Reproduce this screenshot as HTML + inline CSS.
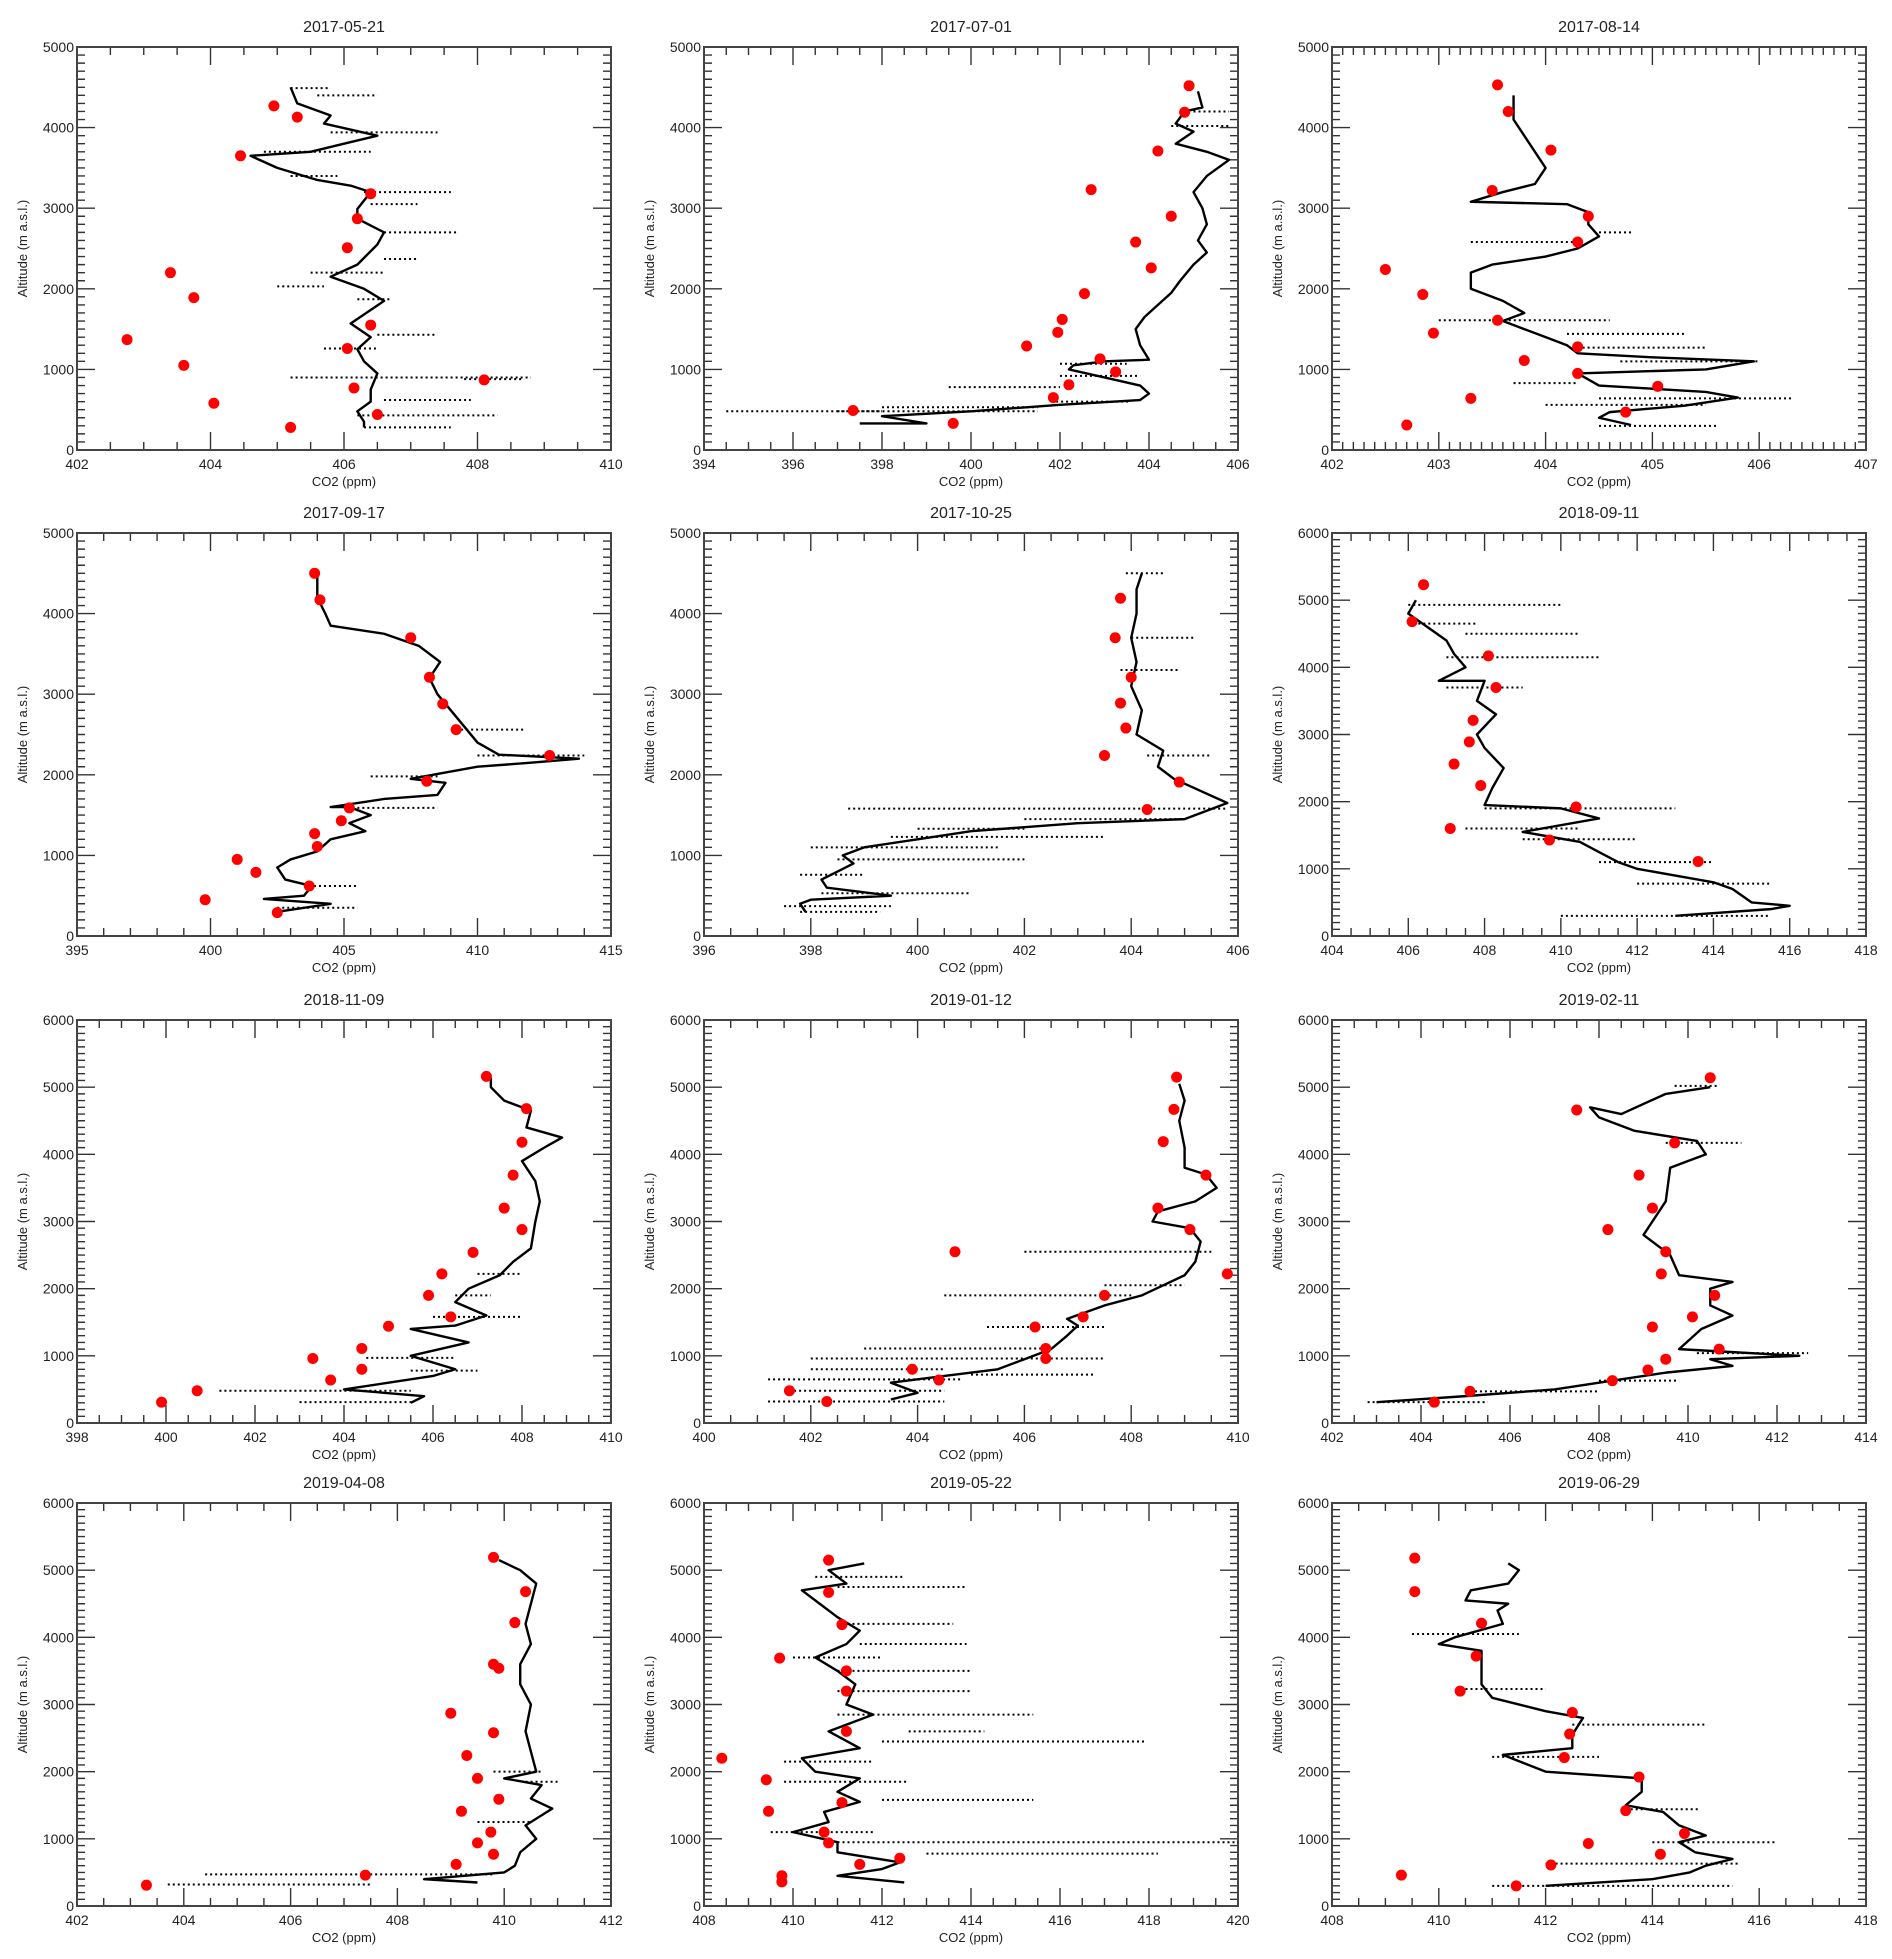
<!DOCTYPE html>
<html><head><meta charset="utf-8"><style>
body{margin:0;background:#fff;}
svg text{font-family:"Liberation Sans",sans-serif;fill:#222;}
</style></head><body>
<svg id="fig" xmlns="http://www.w3.org/2000/svg" width="1892" height="1954" viewBox="0 0 1892 1954"></svg>
<script>
// ---- data ----
const titles=["2017-05-21","2017-07-01","2017-08-14","2017-09-17","2017-10-25","2018-09-11","2018-11-09","2019-01-12","2019-02-11","2019-04-08","2019-05-22","2019-06-29"];
const xRanges=[[402,410,2,0.5],[394,406,2,0.5],[402,407,1,0.1],[395,415,5,1],[396,406,2,0.5],[404,418,2,0.5],[398,410,2,0.5],[400,410,2,0.5],[402,414,2,0.5],[402,412,2,0.5],[408,420,2,0.5],[408,418,2,0.5]];
const yMaxes=[5000,5000,5000,5000,5000,6000,6000,6000,6000,6000,6000,6000];
const redDots=[
[[404.95,4270],[405.3,4130],[404.45,3650],[406.4,3180],[406.2,2870],[406.05,2510],[403.4,2200],[403.75,1890],[406.4,1550],[402.75,1370],[406.05,1260],[403.6,1050],[408.1,870],[406.15,770],[404.05,580],[406.5,440],[405.2,280]],
[[404.9,4520],[404.8,4190],[404.2,3710],[402.7,3230],[404.5,2900],[403.7,2580],[404.05,2260],[402.55,1940],[402.05,1620],[401.95,1460],[401.25,1290],[402.9,1130],[403.25,970],[402.2,810],[401.85,650],[397.35,490],[399.6,330]],
[[403.55,4530],[403.65,4200],[404.05,3720],[403.5,3220],[404.4,2900],[404.3,2580],[402.5,2240],[402.85,1930],[403.55,1610],[402.95,1450],[404.3,1280],[403.8,1110],[404.3,950],[405.05,790],[403.3,640],[404.75,470],[402.7,310]],
[[403.9,4500],[404.1,4170],[407.5,3700],[408.2,3210],[408.7,2880],[409.2,2560],[412.7,2240],[408.1,1920],[405.2,1590],[404.9,1430],[403.9,1270],[404,1110],[401,950],[401.7,790],[403.7,620],[399.8,450],[402.5,290]],
[[403.8,4190],[403.7,3700],[404,3210],[403.8,2890],[403.9,2580],[403.5,2240],[404.9,1910],[404.3,1570]],
[[406.4,5230],[406.1,4680],[408.1,4170],[408.3,3700],[407.7,3210],[407.6,2890],[407.2,2560],[407.9,2240],[410.4,1920],[407.1,1600],[409.7,1430],[413.6,1110]],
[[407.2,5160],[408.1,4680],[408,4180],[407.8,3690],[407.6,3200],[408,2880],[406.9,2540],[406.2,2220],[405.9,1900],[406.4,1580],[405,1440],[404.4,1110],[403.3,960],[404.4,800],[403.7,640],[400.7,480],[399.9,310]],
[[408.85,5150],[408.8,4670],[408.6,4190],[409.4,3690],[408.5,3200],[409.1,2880],[404.7,2550],[409.8,2220],[407.5,1900],[407.1,1580],[406.2,1430],[406.4,1110],[406.4,960],[403.9,800],[404.4,640],[401.6,480],[402.3,320]],
[[410.5,5140],[407.5,4660],[409.7,4170],[408.9,3690],[409.2,3200],[408.2,2880],[409.5,2550],[409.4,2220],[410.6,1900],[410.1,1580],[409.2,1430],[410.7,1100],[409.5,950],[409.1,790],[408.3,630],[405.1,470],[404.3,310]],
[[409.8,5190],[410.4,4680],[410.2,4220],[409.8,3600],[409.9,3540],[409,2870],[409.8,2580],[409.3,2240],[409.5,1900],[409.9,1590],[409.2,1410],[409.75,1100],[409.5,940],[409.8,770],[409.1,620],[407.4,460],[403.3,310]],
[[410.8,5150],[410.8,4670],[411.1,4190],[409.7,3690],[411.2,3500],[411.2,3200],[411.2,2600],[408.4,2200],[409.4,1880],[409.45,1410],[411.1,1540],[410.7,1100],[410.8,940],[411.5,620],[412.4,710],[409.75,450],[409.75,360]],
[[409.55,5180],[409.55,4680],[410.8,4210],[410.7,3720],[410.4,3200],[412.5,2880],[412.45,2560],[412.35,2210],[413.75,1920],[413.5,1420],[414.6,1080],[412.8,930],[414.15,770],[412.1,610],[409.3,460],[411.45,300]]
];
const profiles=[
[[406.3,280],[406.3,350],[406.2,480],[406.4,600],[406.4,750],[406.5,950],[406.3,1100],[406.2,1250],[406.4,1400],[406.1,1570],[406.6,1850],[406.3,2000],[405.8,2150],[406.2,2300],[406.5,2550],[406.6,2700],[406.2,2870],[406.2,2990],[406.4,3200],[406.1,3280],[405.6,3350],[405.0,3500],[404.6,3650],[405.5,3700],[406.0,3800],[406.5,3900],[405.7,4050],[405.8,4150],[405.3,4300],[405.2,4500]],
[[397.5,330],[399,330],[398,420],[400,480],[402,560],[403.8,620],[404,700],[403.8,800],[403,900],[402.2,1000],[402.3,1050],[403,1100],[404,1120],[403.8,1300],[403.7,1500],[403.9,1650],[404.2,1800],[404.5,1950],[404.7,2100],[405,2300],[405.3,2450],[405.1,2600],[405.3,2800],[405.2,3000],[405,3200],[405.3,3400],[405.8,3600],[405.3,3700],[404.6,3800],[405,3950],[404.6,4050],[404.8,4200],[405.2,4250],[405.1,4450]],
[[404.8,310],[404.5,400],[404.6,470],[405.3,550],[405.8,650],[405.5,720],[404.5,800],[404.3,950],[405.5,1000],[405.95,1100],[405,1150],[404.3,1200],[404.2,1300],[404.0,1400],[403.8,1500],[403.6,1600],[403.8,1700],[403.6,1850],[403.3,2000],[403.3,2200],[403.5,2300],[404,2400],[404.3,2500],[404.5,2650],[404.4,2800],[404.4,2950],[404.2,3050],[403.3,3080],[403.6,3200],[403.9,3300],[404.0,3500],[403.9,3700],[403.8,3900],[403.7,4100],[403.7,4300],[403.7,4400]],
[[402.5,300],[404.5,400],[402,460],[403.5,500],[403.8,620],[402.8,700],[402.5,850],[403,950],[404,1050],[404.5,1200],[405.8,1300],[405.2,1400],[406,1500],[405.2,1600],[404.5,1600],[406.5,1700],[408.5,1750],[408.8,1900],[407.5,1950],[410,2100],[412,2150],[413.8,2200],[410.8,2250],[410,2400],[409.5,2600],[409,2800],[408.5,3000],[408.2,3200],[408.6,3400],[407.8,3600],[406.5,3750],[404.5,3850],[404.3,4000],[404.0,4200],[404.0,4450]],
[[397.9,300],[397.8,400],[398,450],[399.5,500],[398.3,600],[398.2,700],[398.5,800],[398.8,900],[398.6,1000],[399,1100],[400,1200],[401,1300],[403,1400],[405.0,1450],[405.8,1650],[405.3,1800],[404.8,1950],[404.5,2100],[404.6,2300],[404.1,2500],[404.2,2800],[404.0,3100],[404.1,3400],[404.0,3700],[404.1,4000],[404.1,4300],[404.2,4500]],
[[413,300],[415.5,400],[416,450],[415,500],[414.5,700],[414,800],[413,900],[412,1000],[411.5,1100],[411,1250],[410.5,1400],[409,1550],[411,1750],[410,1900],[408,1950],[408.2,2200],[408.5,2500],[408,2800],[407.8,3000],[408.3,3300],[407.8,3500],[408,3800],[406.8,3800],[407.5,4000],[407.2,4200],[407,4400],[406.5,4600],[406,4800],[406.2,5000]],
[[405.5,300],[405.8,400],[404,500],[405,600],[406,700],[406.5,800],[405.5,1000],[406.8,1200],[405.5,1400],[406.5,1450],[407.2,1600],[406.5,1800],[406.8,2000],[407.5,2200],[407.8,2400],[408.2,2600],[408.3,3000],[408.4,3300],[408.3,3600],[408.0,3900],[408.5,4100],[408.9,4250],[408.1,4400],[408.2,4650],[407.6,4800],[407.3,5000],[407.3,5150]],
[[403.5,350],[404,450],[403.5,600],[404.5,700],[405.5,800],[406,950],[406.5,1100],[406.8,1300],[407,1450],[406.8,1550],[407.5,1750],[408.2,1900],[408.6,2050],[409,2200],[409.2,2400],[409.3,2700],[409.1,2900],[408.4,3000],[408.5,3150],[409.2,3300],[409.6,3500],[409.4,3700],[409,3800],[409,4100],[408.9,4500],[409,4800],[408.9,5050]],
[[403,310],[405,400],[407,500],[408.5,650],[409.5,750],[411,850],[410.5,950],[412.5,1000],[409.8,1100],[410.3,1400],[411,1600],[410.5,1750],[410.5,2000],[411,2100],[409.8,2200],[409.6,2500],[409,2800],[409.2,3000],[409.5,3300],[409.6,3800],[410,3900],[410.4,4000],[410.2,4200],[408.8,4350],[408,4550],[407.8,4700],[408.5,4600],[409.5,4900],[410.5,5000]],
[[409.5,350],[408.5,400],[410,500],[410.2,600],[410.3,800],[410.6,1000],[410.4,1200],[410.9,1450],[410.5,1600],[410.7,1800],[410,1900],[410.6,2000],[410.5,2300],[410.4,2600],[410.5,3000],[410.3,3300],[410.3,3600],[410.5,3900],[410.4,4200],[410.5,4500],[410.6,4800],[410.3,5000],[409.9,5150]],
[[412.5,350],[411,450],[412,550],[412.4,650],[411,800],[411,950],[410,1100],[410.8,1250],[410.7,1400],[411.5,1550],[411,1700],[411.5,1900],[410.5,2000],[410.2,2200],[411.5,2350],[410.8,2600],[411.8,2850],[411.2,3000],[411.4,3300],[411,3500],[410.5,3700],[411.2,3900],[411.5,4100],[411,4300],[410.6,4500],[410.2,4700],[411.2,4800],[410.8,5000],[411.6,5100]],
[[412,300],[414,400],[414.7,500],[415,600],[415.5,700],[414.8,800],[414.5,950],[415,1050],[414.5,1200],[414.2,1400],[413.5,1500],[413.8,1700],[413.8,1900],[412,2000],[411.2,2250],[412.5,2350],[412.5,2550],[412.7,2800],[412,2900],[411,3100],[410.8,3300],[410.8,3600],[410.8,3800],[410.0,3900],[410.3,4000],[411.2,4200],[411.1,4400],[411.3,4500],[410.5,4550],[410.6,4700],[411.3,4800],[411.5,5000],[411.3,5100]]
];
const streaks=[
[[4490,405.2,405.8],[4400,405.6,406.5],[3940,405.8,407.4],[3700,404.8,406.4],[3400,405.2,405.9],[3200,406.3,407.6],[3050,406.4,407.1],[2700,406.6,407.7],[2370,406.6,407.1],[2030,405,405.7],[1870,406.2,406.7],[1430,406.5,407.4],[1260,405.7,406.5],[900,405.2,408.8],[880,407.8,408.7],[620,406.6,407.9],[430,406.2,408.3],[280,406.3,407.6],[2200,405.5,406.6]],
[[480,394.5,398],[480,397,401.5],[530,398,401.5],[780,399.5,402],[600,401.8,403.6],[4020,404.5,405.8],[4200,405,405.8],[1070,402,403.5],[920,402,403.8]],
[[1440,404.2,405.3],[1270,404.3,405.5],[1100,404.7,406.0],[640,404.5,406.3],[560,404,405.5],[300,404.5,405.6],[1610,403,404.6],[2580,403.3,404.3],[830,403.7,404.3],[2700,404.5,404.8]],
[[2560,409.2,411.8],[2240,410,414],[1980,406,408.5],[620,403.5,405.5],[350,402.5,405.5],[1590,405.5,408.5]],
[[1580,398.7,405.8],[1450,402,405],[1330,400,402],[1230,399.5,403.5],[1100,398,401.5],[950,398.5,402],[760,397.8,399],[530,398.2,401],[370,397.5,399.5],[300,397.8,399.3],[3700,404,405.2],[2240,404.3,405.5],[3300,403.8,404.9],[4500,403.9,404.6]],
[[4930,406,410],[4650,406,407.8],[4150,407,411],[3700,407,409],[1900,408,413],[1600,407.5,410.5],[1440,409,412],[1100,411,414],[780,412,415.5],[300,410,415.5],[4500,407.5,410.5]],
[[480,401.2,405.5],[310,403,405.5],[970,404.5,406.5],[1580,406,408],[1900,406.5,407.3],[2220,407,408],[780,405.5,407]],
[[320,401.2,404.5],[480,401.5,404.5],[650,401.2,404.8],[800,402,404.5],[960,402,407.5],[1110,403,406.5],[1430,405.3,407.5],[1900,404.5,408],[2550,406,409.5],[720,405,407.3],[2050,407.5,409]],
[[310,402.8,405.5],[470,405.1,408],[630,408,409.8],[1040,410.2,412.7],[4170,409.5,411.2],[5020,409.7,410.7]],
[[470,404.4,409.8],[320,403.7,407.5],[1250,409.5,410.5],[2000,409.8,410.7],[1850,410.4,411.0]],
[[950,411,420],[780,413,418.2],[2450,412,417.9],[2850,411,415.4],[1580,412,415.4],[3200,411,414],[3500,411,414],[3900,411.5,413.9],[4750,411,413.9],[4200,411,413.6],[3700,410,412],[1100,409.5,411.8],[2150,409.8,411.8],[1850,409.8,412.6],[2600,412.6,414.3],[4900,410.5,412.5]],
[[300,411,415.5],[630,412,415.6],[950,414,416.3],[2700,412.5,415],[3230,410.5,412],[4050,409.5,411.5],[2220,411,413],[1440,413.5,414.9]]
];
// ---- layout ----
const colLeft=[77,704,1332], rowTop=[47,533,1020,1503], PW=534, PH=403;
const NS="http://www.w3.org/2000/svg";
const svg=document.getElementById('fig');
function mk(tag,attrs,parent){const e=document.createElementNS(NS,tag);for(const k in attrs)e.setAttribute(k,attrs[k]);parent.appendChild(e);return e;}
titles.forEach((t,i)=>{
  const L=colLeft[i%3], T=rowTop[Math.floor(i/3)], R=L+PW, B=T+PH;
  const [x0,x1,step,minor]=xRanges[i], ymax=yMaxes[i];
  const sx=v=>L+(v-x0)/(x1-x0)*PW, sy=v=>B-v/ymax*PH;
  const g=mk('g',{},svg);
  
  
  const ti=mk('text',{x:L+PW/2,y:T-15,'text-anchor':'middle','font-size':16},g); ti.textContent=t;
  
  
  let tp='';
  const nMin=Math.round((x1-x0)/minor);
  for(let k=0;k<=nMin;k++){const v=x0+k*minor,X=sx(v);const maj=Math.abs((v-x0)/step-Math.round((v-x0)/step))<1e-6;const len=maj?18:8;tp+=`M${X} ${B}v${-len}M${X} ${T}v${len}`;
    if(maj){const tx=mk('text',{x:X,y:B+19,'text-anchor':'middle','font-size':14},g);tx.textContent=+v.toFixed(2);
      
      }}
  for(let v=0;v<=ymax;v+=100){const Y=sy(v);const maj=v%1000===0;const len=maj?18:8;tp+=`M${L} ${Y}h${len}M${R} ${Y}h${-len}`;
    if(maj){const ty=mk('text',{x:L-3,y:Y+5,'text-anchor':'end','font-size':14},g);ty.textContent=v;
      
      }}
  const tk=mk('path',{d:tp,stroke:'#333','stroke-width':1.4,fill:'none'},g);
  
  
  const fr=mk('rect',{x:L,y:T,width:PW,height:PH,fill:'none',stroke:'#444','stroke-width':2},g);
  
  
  const xl=mk('text',{x:L+PW/2,y:B+36,'text-anchor':'middle','font-size':13},g);xl.textContent='CO2 (ppm)';
  
  
  const yl=mk('text',{x:0,y:0,'text-anchor':'middle','font-size':13,transform:`translate(${L-50},${T+PH/2}) rotate(-90)`},g);yl.textContent='Altitude (m a.s.l.)';
  
  
  streaks[i].forEach(s=>{const ln=mk('line',{x1:sx(s[1]),x2:sx(s[2]),y1:sy(s[0]),y2:sy(s[0]),stroke:'#000','stroke-width':2,'stroke-dasharray':'2 3'},g);
    
    });
  const pl=mk('polyline',{points:profiles[i].map(p=>sx(p[0])+','+sy(p[1])).join(' '),fill:'none',stroke:'#000','stroke-width':2.4,'stroke-linejoin':'round'},g);
  
  
  redDots[i].forEach(p=>{const c=mk('circle',{cx:sx(p[0]),cy:sy(p[1]),r:5.5,fill:'#f00'},g);
    
    });
});
</script>
</body></html>
